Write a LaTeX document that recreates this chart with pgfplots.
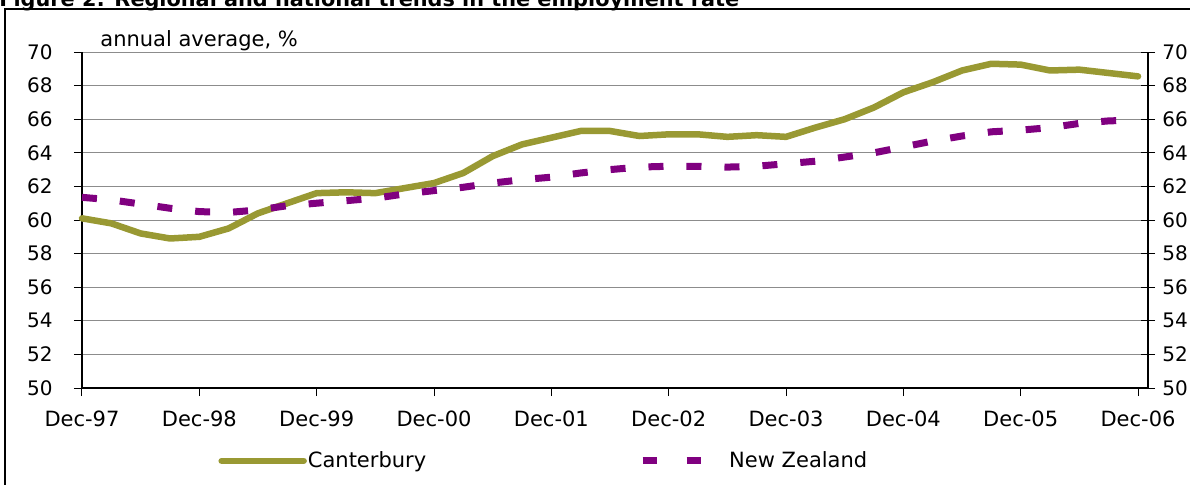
\documentclass[border=0pt]{standalone}
\usepackage{fontspec}
\setmainfont{DejaVu Sans}
\usepackage{pgfplots}
\pgfplotsset{compat=1.18}
\definecolor{cantGreen}{HTML}{999933}
\definecolor{nzPurple}{HTML}{800080}

\pgfplotsset{
  cantleg/.style={legend image code/.code={\draw[#1] (0pt,0pt) -- (41pt,0pt);}},
  nzleg/.style={legend image code/.code={\draw[#1, dash pattern=on 7pt off 15pt] (0pt,0pt) -- (41pt,0pt);}},
}

% quarterly data, x = quarters since Dec-97
\pgfplotstableread{
q val
0 60.1
1 59.8
2 59.2
3 58.9
4 59.0
5 59.5
6 60.4
7 61.0
8 61.6
9 61.65
10 61.6
11 61.9
12 62.2
13 62.8
14 63.8
15 64.5
16 64.9
17 65.3
18 65.3
19 65.0
20 65.1
21 65.1
22 64.95
23 65.05
24 64.95
25 65.5
26 66.0
27 66.7
28 67.6
29 68.2
30 68.9
31 69.3
32 69.25
33 68.9
34 68.95
35 68.75
36 68.55
}\canterbury

\pgfplotstableread{
q val
0 61.35
1 61.2
2 60.95
3 60.7
4 60.5
5 60.45
6 60.6
7 60.85
8 61.0
9 61.15
10 61.3
11 61.55
12 61.75
13 61.95
14 62.2
15 62.4
16 62.55
17 62.8
18 63.0
19 63.15
20 63.2
21 63.2
22 63.15
23 63.2
24 63.35
25 63.5
26 63.75
27 64.0
28 64.35
29 64.7
30 65.0
31 65.25
32 65.35
33 65.5
34 65.75
35 65.9
36 65.95
}\newzealand

\begin{document}
\fontsize{10.5}{12.5}\selectfont
\begin{tikzpicture}
\path[use as bounding box] (0pt,0pt) rectangle (595pt,-242pt);
\node[anchor=base west, inner sep=0pt, font=\bfseries\fontsize{10.4}{12}\selectfont] at (-0.5pt,-3.4pt)
  {Figure 2: Regional and national trends in the employment rate};
\draw[black, line width=0.75pt] (2.5pt,-4.5pt) rectangle (600pt,-250pt);

\begin{axis}[
    at={(41pt,-194pt)}, anchor=south west,
    scale only axis, width=533pt, height=168pt,
    xmin=0, xmax=36.34, ymin=50, ymax=70,
    xtick={0,4,...,36},
    xticklabels={Dec-97,Dec-98,Dec-99,Dec-00,Dec-01,Dec-02,Dec-03,Dec-04,Dec-05,Dec-06},
    ytick={50,52,...,70},
    axis x line*=bottom, axis y line*=left,
    ymajorgrids, grid style={color=black!45, line width=0.5pt},
    tick align=outside, major tick length=4pt,
    tick style={black, line width=0.5pt},
    axis line style={black, line width=0.6pt, -},
    /pgf/number format/assume math mode=true,
    ticklabel style={font=\fontsize{10.5}{12.5}\selectfont},
    xticklabel style={yshift=-4pt},
    yticklabel style={xshift=-7pt, font=\fontsize{10}{12}\selectfont},
    legend columns=2,
    legend style={draw=none, fill=none, inner sep=0pt,
        at={(0.1276,-0.217)}, anchor=west,
        font=\fontsize{10.5}{12.5}\selectfont,
        cells={anchor=west},
        nodes={inner xsep=0.5pt},
        /tikz/column 2/.style={column sep=106pt}},
    clip=false,
]
\addplot[cantGreen, line width=3.25pt, line cap=round, line join=round, cantleg]
    table[x=q, y=val] {\canterbury};
\addlegendentry{Canterbury}
\addplot[nzPurple, line width=3.5pt, line join=round, dash pattern=on 7.5pt off 11.5pt, nzleg]
    table[x=q, y=val] {\newzealand};
\addlegendentry{New Zealand}
\node[anchor=base west, inner sep=0pt] at (rel axis cs:0.0169,1) [yshift=3pt] {annual average, \%};
\end{axis}

\begin{axis}[
    at={(41pt,-194pt)}, anchor=south west,
    scale only axis, width=533pt, height=168pt,
    xmin=0, xmax=36.34, ymin=50, ymax=70,
    hide x axis,
    axis y line*=right,
    ytick={50,52,...,70},
    tick align=center, major tick length=7pt,
    tick style={black, line width=0.5pt},
    axis line style={black, line width=0.6pt, -},
    /pgf/number format/assume math mode=true,
    ticklabel style={font=\fontsize{10}{12}\selectfont},
]
\end{axis}
\end{tikzpicture}
\end{document}
